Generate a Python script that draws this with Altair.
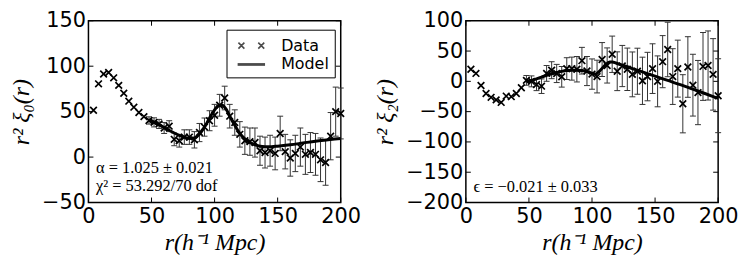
import altair as alt
import pandas as pd

# ---------------- data ----------------
r = [4, 8, 12, 16, 20, 24, 28, 32, 36, 40, 44, 48, 52, 56, 60, 64, 68, 72, 76, 80,
     84, 88, 92, 96, 100, 104, 108, 112, 116, 120, 124, 128, 132, 136, 140, 144, 148,
     152, 156, 160, 164, 168, 172, 176, 180, 184, 188, 192, 196, 200]

xi0 = [51.5, 80.6, 91.4, 93.1, 87.2, 78.9, 70.2, 61.5, 54.9, 49.0,
       44.5, 40.3, 38.2, 36.5, 32.0, 34.0, 19.5, 18.0, 22.0, 22.0,
       19.0, 27.0, 33.0, 40.0, 46.0, 57.0, 65.0, 45.0, 38.0, 25.0,
       18.0, 17.0, 16.0, 7.0, 5.0, 7.0, 4.0, 26.0, 6.0, -1.0,
       4.0, 11.0, 3.0, 5.0, 3.0, -3.0, -6.0, 23.0, 50.0, 48.0]
err0 = [0, 0, 0, 0, 0, 0, 0, 0, 0, 0,
        0, 4, 5, 5, 6, 6, 7, 7, 8, 8,
        9, 10, 10, 11, 12, 12, 13, 13, 14, 14,
        15, 15, 16, 16, 17, 17, 18, 19, 19, 20,
        20, 21, 22, 22, 23, 24, 25, 26, 27, 28]

xi2 = [19.9, 13.1, -6.9, -20.0, -26.4, -30.6, -34.8, -24.3, -25.3, -20.0,
       -10.6, 1.6, 0.0, -5.3, -8.0, 13.1, 18.4, 13.0, 7.5, 21.0,
       21.0, 20.0, 34.1, 17.0, 12.0, 7.9, 36.0, 26.2, 44.7, 16.7,
       25.3, 19.9, 11.5, 16.7, 0.9, 7.9, 21.0, 0.0, 32.5, 52.6,
       7.9, 21.0, -37.0, 23.7, -6.3, -18.5, 24.6, 26.2, 11.5, -23.7]
err2 = [0, 0, 0, 0, 0, 0, 0, 0, 0, 0,
        0, 8, 9, 10, 12, 13, 14, 15, 17, 18,
        19, 21, 22, 24, 25, 27, 28, 29, 30, 32,
        34, 35, 37, 38, 39, 40, 41, 42, 43, 45,
        46, 47, 48, 50, 51, 53, 56, 57, 59, 61]

model0_r = [48, 52, 56, 60, 64, 68, 72, 76, 80, 84, 88, 92, 96, 100, 103, 106, 109,
            112, 116, 120, 124, 128, 132, 136, 140, 145, 150, 160, 170, 180, 190, 200]
model0_v = [41, 38.5, 35.5, 32.5, 29.5, 26.5, 24, 22, 20.5, 21, 25, 33, 43, 52, 56.5,
            57, 53, 45, 35, 26, 20, 16, 13.5, 12, 11.5, 11.5, 12, 13.5, 15.5, 17.5, 19, 20.5]

model2_r = [48, 52, 56, 60, 64, 68, 72, 76, 80, 84, 88, 92, 96, 100, 103, 106, 110,
            114, 116, 120, 130, 140, 150, 160, 170, 180, 190, 200]
model2_v = [-1, 1.5, 4, 7, 10, 12.5, 14.5, 16.5, 18, 18.5, 18.5, 18, 16, 13.5, 12,
            17, 26, 32, 32, 29.5, 22.5, 15.5, 8.5, 1.5, -5.5, -13, -20.5, -28]

x_ticks = [0, 50, 100, 150, 200]
y0_ticks = [-50, 0, 50, 100, 150]
y2_ticks = [-200, -150, -100, -50, 0, 50, 100]
y0_domain = [-50, 150]
y2_domain = [-200, 100]

ann0_r = [6, 6]
ann0_v = [-18, -37]
ann0_t = ["α = 1.025 ± 0.021", "χ² = 53.292/70 dof"]
ann2_r = [6]
ann2_v = [-183]
ann2_t = ["ϵ = −0.021 ± 0.033"]

legend_series = ["Data", "Model"]

# ---------------- styling ----------------
W, H = 254, 183
XPATH = "M-1,-1L1,1M-1,1L1,-1"
DATA_LEG = "M-1.3,-0.3L-0.7,0.3M-1.3,0.3L-0.7,-0.3M0.7,-0.3L1.3,0.3M0.7,0.3L1.3,-0.3"
MODEL_LEG = "M-1.3,-0.06L1.3,-0.06L1.3,0.06L-1.3,0.06Z"
XTITLE = "r(h⁻¹ Mpc)"
TFONT = "Liberation Serif"


def panel(vals, errs, mr, mv, ydom, yticks, ytitle, ar, av, at, with_legend):
    xs = alt.Scale(domain=[0, 200], nice=False, zero=False)
    ys = alt.Scale(domain=ydom, nice=False, zero=False)
    xax = alt.Axis(values=x_ticks, title=XTITLE, format="d", titleFont=TFONT)
    yax = alt.Axis(values=yticks, title=ytitle, format="d", titleFont=TFONT)

    def X(f):
        return alt.X(f, type="quantitative", scale=xs, axis=xax)

    def Y(f):
        return alt.Y(f, type="quantitative", scale=ys, axis=yax)

    df = pd.DataFrame({"r": r, "v": vals, "e": errs})
    df["lo"] = df["v"] - df["e"]
    df["hi"] = df["v"] + df["e"]
    dfe = df[df["e"] > 0]

    bars = alt.Chart(dfe).mark_rule(color="#333333", strokeWidth=1).encode(
        x=X("r"), y=Y("lo"), y2="hi")
    cap_lo = alt.Chart(dfe).mark_tick(orient="horizontal", size=6, thickness=1,
                                      color="#333333", opacity=1).encode(x=X("r"), y=Y("lo"))
    cap_hi = alt.Chart(dfe).mark_tick(orient="horizontal", size=6, thickness=1,
                                      color="#333333", opacity=1).encode(x=X("r"), y=Y("hi"))
    model = alt.Chart(pd.DataFrame({"r": mr, "v": mv})).mark_line(
        color="black", strokeWidth=3, interpolate="monotone").encode(x=X("r"), y=Y("v"))
    pts = alt.Chart(df).mark_point(shape=XPATH, size=45, strokeWidth=1.7, color="black",
                                   filled=False, opacity=1).encode(x=X("r"), y=Y("v"))
    ann = alt.Chart(pd.DataFrame({"r": ar, "v": av, "t": at})).mark_text(
        align="left", baseline="alphabetic", font=TFONT, fontSize=16.5,
        color="black").encode(x=X("r"), y=Y("v"), text="t:N")

    tx = pd.DataFrame({"t": x_ticks})
    ty = pd.DataFrame({"t": yticks})
    tk_b = alt.Chart(tx).mark_rule(color="black", strokeWidth=1).encode(
        x=X("t"), y=alt.value(H), y2=alt.value(H - 5))
    tk_t = alt.Chart(tx).mark_rule(color="black", strokeWidth=1).encode(
        x=X("t"), y=alt.value(0), y2=alt.value(5))
    tk_l = alt.Chart(ty).mark_rule(color="black", strokeWidth=1).encode(
        y=Y("t"), x=alt.value(0), x2=alt.value(5))
    tk_r = alt.Chart(ty).mark_rule(color="black", strokeWidth=1).encode(
        y=Y("t"), x=alt.value(W), x2=alt.value(W - 5))

    layers = [tk_b, tk_t, tk_l, tk_r, bars, cap_lo, cap_hi, model, pts, ann]
    if with_legend:
        leg_df = pd.DataFrame({"series": legend_series, "r": [-12, -12],
                               "v": [ydom[0] + 60, ydom[0] + 60]})
        leg = alt.Chart(leg_df).mark_point(clip=True, size=400, filled=False,
                                           color="black", strokeWidth=1.6).encode(
            x=X("r"), y=Y("v"),
            shape=alt.Shape("series:N",
                            scale=alt.Scale(domain=legend_series, range=[DATA_LEG, MODEL_LEG]),
                            legend=alt.Legend(title=None, orient="none", legendX=139, legendY=9,
                                              padding=5, rowPadding=0, symbolSize=400,
                                              symbolOffset=9, labelOffset=19,
                                              symbolStrokeWidth=1.6, symbolStrokeColor="black",
                                              labelFont="DejaVu Sans", labelFontSize=16,
                                              labelColor="black",
                                              strokeColor="black", fillColor="white")))
        layers.append(leg)
    return alt.layer(*layers).properties(width=W, height=H)


left = panel(xi0, err0, model0_r, model0_v, y0_domain, y0_ticks, "r² ξ₀(r)",
             ann0_r, ann0_v, ann0_t, True)
right = panel(xi2, err2, model2_r, model2_v, y2_domain, y2_ticks, "r² ξ₂(r)",
              ann2_r, ann2_v, ann2_t, False)

chart = alt.hconcat(left, right, spacing=126, bounds="flush").properties(padding=0).configure_view(
    stroke="black", strokeWidth=1.5
).configure_axis(
    domain=False, ticks=False, grid=False,
    labelFont="DejaVu Sans", labelFontSize=21, labelColor="black", labelPadding=3,
    titleFont=TFONT, titleFontSize=24, titleFontStyle="italic",
    titleFontWeight="normal", titleColor="black",
).configure_axisX(titlePadding=4, labelFlush=False).configure_axisY(titlePadding=8)

chart.save("out.html", embed_options={"renderer": "svg", "actions": False})
